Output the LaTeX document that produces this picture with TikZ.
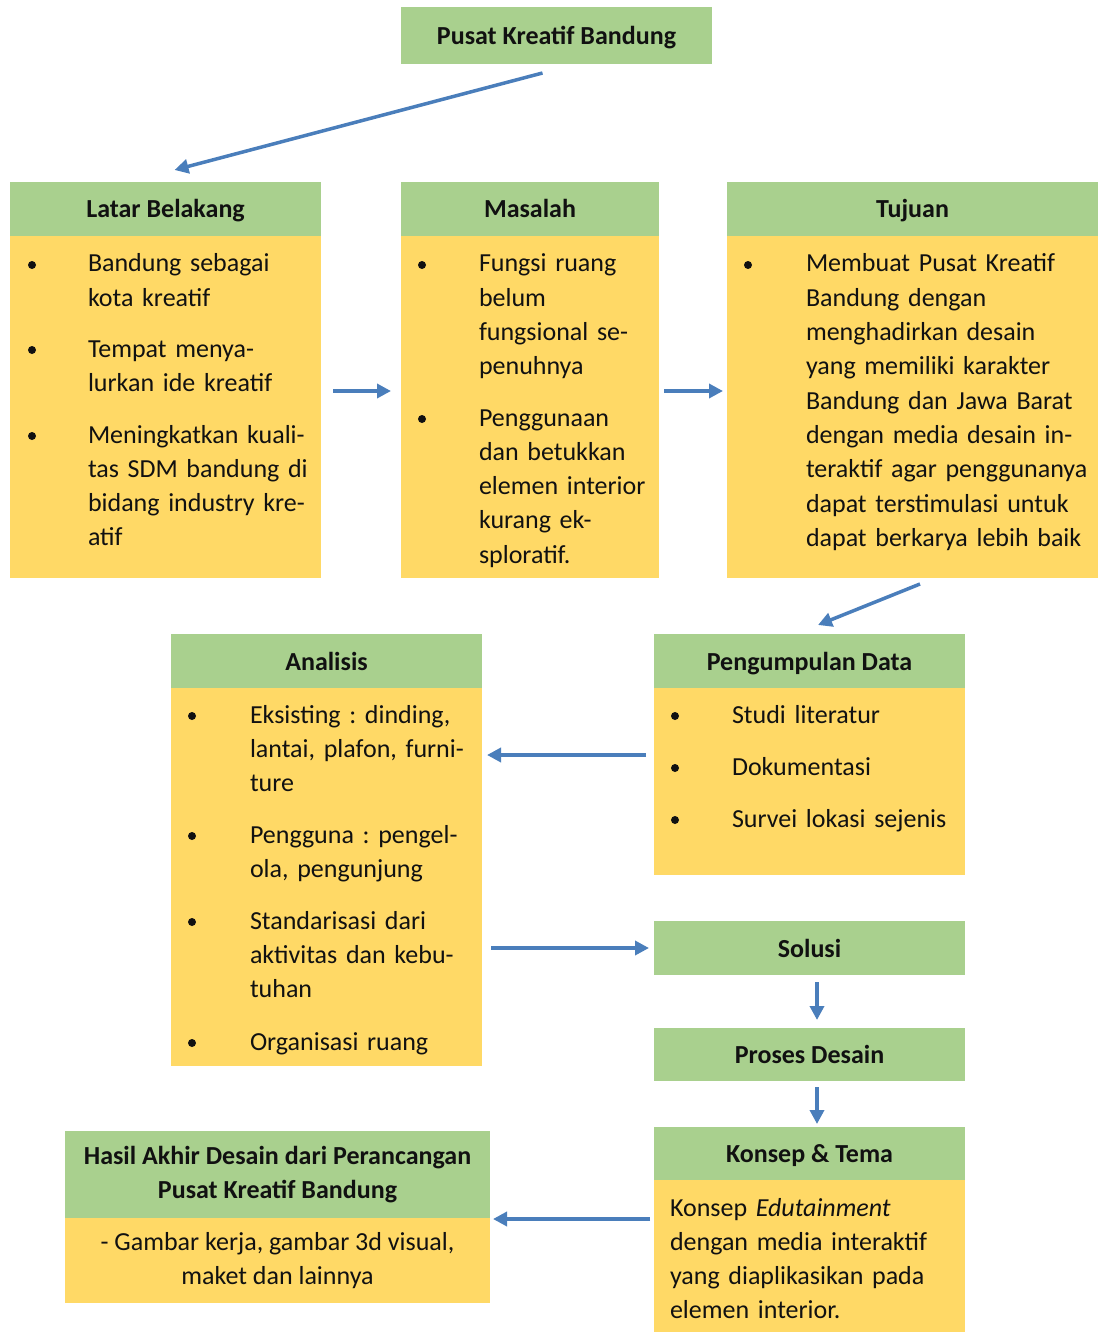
\documentclass[tikz,border=0pt]{standalone}
\usepackage{fontspec}
\setmainfont{Carlito}
\usetikzlibrary{arrows.meta}
\definecolor{hdr}{HTML}{A9D08E}
\definecolor{bdy}{HTML}{FFD966}
\definecolor{arrc}{HTML}{4A7EBB}
\definecolor{ink}{HTML}{111111}
\frenchspacing
\begin{document}
\begin{tikzpicture}[x=1pt,y=-1pt,
  box/.style={anchor=north west, inner sep=0pt, outer sep=0pt},
  hd/.style={box, fill=hdr, text=ink, font=\fontsize{26}{34}\selectfont\bfseries\frenchspacing},
  one/.style={text height=24pt, text depth=6pt},
  bd/.style={box, fill=bdy},
  txt/.style={anchor=base west, inner sep=0pt, outer sep=0pt, align=left, text width=380pt, text=ink, font=\fontsize{26}{34.3}\selectfont\frenchspacing},
  bul/.style={circle, fill=ink, inner sep=0pt, minimum size=8pt},
  conn/.style={draw=arrc, line width=3.5pt, -{Triangle[length=14pt,width=14pt]}}
]
\useasboundingbox (0,0) rectangle (1098,1332);

% top
\node[hd, one, minimum width=311pt, minimum height=57pt] (top) at (401,7) {Pusat Kreatif Bandung};

% Latar Belakang
\node[hd, one, minimum width=311pt, minimum height=54pt] (lhead) at (10,182) {Latar Belakang};
\node[bd, minimum width=311pt, minimum height=342pt] (lbody) at (10,236) {};
\node[bul] (lb1) at (32,265) {};
\node[txt] (lt1) at (88,272) {Bandung sebagai\\kota kreatif};
\node[bul] (lb2) at (32,350) {};
\node[txt] (lt2) at (88,357) {Tempat menya-\\lurkan ide kreatif};
\node[bul] (lb3) at (32,436) {};
\node[txt] (lt3) at (88,443) {Meningkatkan kuali-\\tas SDM bandung di\\bidang industry kre-\\atif};

% Masalah
\node[hd, one, minimum width=258pt, minimum height=54pt] (mhead) at (401,182) {Masalah};
\node[bd, minimum width=258pt, minimum height=342pt] (mbody) at (401,236) {};
\node[bul] (mb1) at (422,265) {};
\node[txt] (mt1) at (479,272) {Fungsi ruang\\belum\\fungsional se-\\penuhnya};
\node[bul] (mb2) at (422,419) {};
\node[txt] (mt2) at (479,426) {Penggunaan\\dan betukkan\\elemen interior\\kurang ek-\\sploratif.};

% Tujuan
\node[hd, one, minimum width=371pt, minimum height=54pt] (thead) at (727,182) {Tujuan};
\node[bd, minimum width=371pt, minimum height=342pt] (tbody) at (727,236) {};
\node[bul] (tb1) at (748,265) {};
\node[txt] (tt1) at (806,272) {Membuat Pusat Kreatif\\Bandung dengan\\menghadirkan desain\\yang memiliki karakter\\Bandung dan Jawa Barat\\dengan media desain in-\\teraktif agar penggunanya\\dapat terstimulasi untuk\\dapat berkarya lebih baik};

% Pengumpulan Data
\node[hd, one, minimum width=311pt, minimum height=54pt] (phead) at (654,634) {Pengumpulan Data};
\node[bd, minimum width=311pt, minimum height=187pt] (pbody) at (654,688) {};
\node[bul] (pb1) at (675,716) {};
\node[txt] (pt1) at (732,723) {Studi literatur};
\node[bul] (pb2) at (675,768) {};
\node[txt] (pt2) at (732,775) {Dokumentasi};
\node[bul] (pb3) at (675,820) {};
\node[txt] (pt3) at (732,827) {Survei lokasi sejenis};

% Analisis
\node[hd, one, minimum width=311pt, minimum height=54pt] (ahead) at (171,634) {Analisis};
\node[bd, minimum width=311pt, minimum height=378pt] (abody) at (171,688) {};
\node[bul] (ab1) at (192,716) {};
\node[txt] (at1) at (250,723) {Eksisting : dinding,\\lantai, plafon, furni-\\ture};
\node[bul] (ab2) at (192,836) {};
\node[txt] (at2) at (250,843) {Pengguna : pengel-\\ola, pengunjung};
\node[bul] (ab3) at (192,922) {};
\node[txt] (at3) at (250,929) {Standarisasi dari\\aktivitas dan kebu-\\tuhan};
\node[bul] (ab4) at (192,1043) {};
\node[txt] (at4) at (250,1050) {Organisasi ruang};

% Solusi, Proses Desain
\node[hd, one, minimum width=311pt, minimum height=54pt] (sol) at (654,921) {Solusi};
\node[hd, one, minimum width=311pt, minimum height=53pt] (pro) at (654,1028) {Proses Desain};

% Konsep & Tema
\node[hd, one, minimum width=311pt, minimum height=53pt] (khead) at (654,1127) {Konsep \& Tema};
\node[bd, minimum width=311pt, minimum height=152pt] (kbody) at (654,1180) {};
\node[txt] (kt) at (670,1216) {Konsep \textit{Edutainment}\\dengan media interaktif\\yang diaplikasikan pada\\elemen interior.};

% Hasil Akhir
\node[hd, minimum width=425pt, minimum height=87pt, align=center] (hhead) at (65,1131) {Hasil Akhir Desain dari Perancangan\\Pusat Kreatif Bandung};
\node[bd, minimum width=425pt, minimum height=85pt, align=center, text=ink, font=\fontsize{26}{33.5}\selectfont\frenchspacing] (hbody) at (65,1218) {- Gambar kerja, gambar 3d visual,\\maket dan lainnya};

% connectors
\draw[conn] ([xshift=-14pt,yshift=-9pt]top.south) -- ([xshift=9pt,yshift=12pt]lhead.north);
\draw[conn] ([xshift=12pt,yshift=16pt]lbody.east) -- ([xshift=-10pt,yshift=16pt]mbody.west);
\draw[conn] ([xshift=5pt,yshift=16pt]mbody.east) -- ([xshift=-4pt,yshift=16pt]tbody.west);
\draw[conn] ([xshift=7.5pt,yshift=-6pt]tbody.south) -- ([xshift=8.5pt,yshift=9pt]phead.north);
\draw[conn] ([xshift=-8pt,yshift=26.5pt]pbody.west) -- ([xshift=5pt,yshift=122pt]abody.east);
\draw[conn] ([xshift=9pt,yshift=-71pt]abody.east) -- ([xshift=-5pt]sol.west);
\draw[conn] ([xshift=7.5pt,yshift=-7pt]sol.south) -- ([xshift=7.5pt,yshift=8pt]pro.north);
\draw[conn] ([xshift=7.5pt,yshift=-6pt]pro.south) -- ([xshift=7.5pt,yshift=3pt]khead.north);
\draw[conn] ([xshift=-4pt,yshift=37pt]kbody.west) -- ([xshift=3pt,yshift=41.5pt]hbody.east);
\end{tikzpicture}
\end{document}
